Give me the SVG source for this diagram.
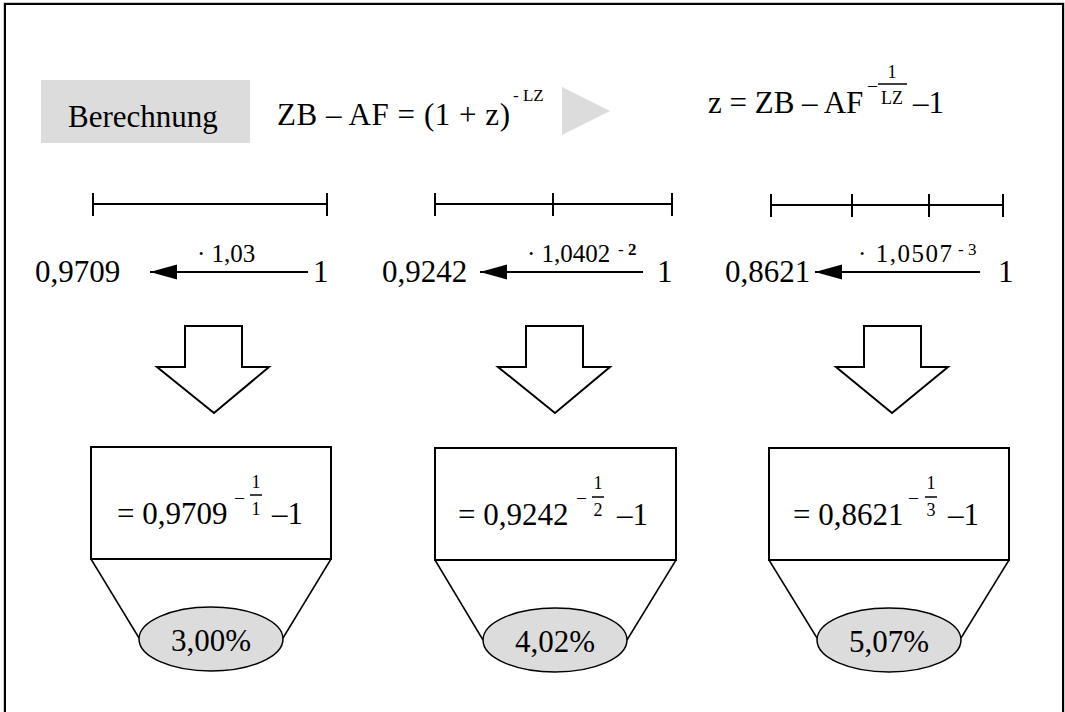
<svg xmlns="http://www.w3.org/2000/svg" width="1065" height="712" viewBox="0 0 1065 712">
<defs>
<style>
text{font-family:"Liberation Serif","Times New Roman",serif;fill:#000}
.m{font-size:31px}
.l{font-size:25px}
.s{font-size:17px}
.e{font-size:18px}
.bar{stroke:#000;stroke-width:2;fill:none}
.ln{stroke:#000;stroke-width:1.5;fill:none}
.arr{stroke:#000;stroke-width:2;fill:none;marker-end:url(#ah)}
.blk{fill:#fff;stroke:#000;stroke-width:2;stroke-linejoin:miter}
.box{fill:#fff;stroke:#000;stroke-width:2}
.ell{fill:#dcdcdc;stroke:#000;stroke-width:1.5}
.c{text-anchor:middle}
</style>
<marker id="ah" markerWidth="28" markerHeight="16" refX="27" refY="7.5" orient="auto" markerUnits="userSpaceOnUse">
<path d="M0,0 L27,7.5 L0,15 Z" fill="#000"/>
</marker>
</defs>
<rect x="4" y="3" width="1060" height="722" fill="none" stroke="#999" stroke-width="1"/>
<rect x="5" y="4" width="1058" height="720" fill="#fff" stroke="#000" stroke-width="2"/>

<g id="header">
<rect x="41" y="80" width="209" height="63" fill="#dcdcdc"/>
<text class="m" x="68" y="127">Berechnung</text>
<text class="m" x="277" y="125" textLength="233" lengthAdjust="spacing">ZB – AF = (1 + z)</text>
<text class="s" x="513" y="101">- LZ</text>
<polygon points="562,87 610,111 562,135" fill="#dcdcdc"/>
<text class="m" x="708" y="113">z = ZB – AF</text>
<text class="e" x="868" y="91">–</text>
<text class="e c" x="892" y="78">1</text>
<line class="ln" x1="878" y1="84" x2="907" y2="84" stroke-width="1"/>
<text class="e c" x="892" y="104">LZ</text>
<text class="m" x="913" y="113">–1</text>
</g>

<g id="bar1">
<line class="bar" x1="93" y1="204" x2="327" y2="204"/>
<line class="bar" x1="93" y1="193" x2="93" y2="216"/>
<line class="bar" x1="327" y1="193" x2="327" y2="216"/>
</g>
<g id="bar2">
<line class="bar" x1="435" y1="204" x2="672" y2="204"/>
<line class="bar" x1="435" y1="193" x2="435" y2="216"/>
<line class="bar" x1="553" y1="193" x2="553" y2="216"/>
<line class="bar" x1="672" y1="193" x2="672" y2="216"/>
</g>
<g id="bar3">
<line class="bar" x1="771" y1="205" x2="1003" y2="205"/>
<line class="bar" x1="771" y1="194" x2="771" y2="217"/>
<line class="bar" x1="852" y1="194" x2="852" y2="217"/>
<line class="bar" x1="929" y1="194" x2="929" y2="217"/>
<line class="bar" x1="1003" y1="194" x2="1003" y2="217"/>
</g>

<g id="row1">
<text class="m" x="35" y="282">0,9709</text>
<text class="l" x="197" y="262">· 1,03</text>
<text class="m" x="313" y="282">1</text>
</g>
<g id="row2">
<text class="m" x="382" y="282">0,9242</text>
<text class="l" x="527" y="262">· 1,0402</text>
<text class="s" x="618" y="255">- <tspan font-weight="bold">2</tspan></text>
<text class="m" x="657" y="282">1</text>
</g>
<g id="row3">
<text class="m" x="725" y="282">0,8621</text>
<text class="l" x="858" y="262" textLength="94" lengthAdjust="spacing">· 1,0507</text>
<text class="s" x="958" y="255">- 3</text>
<text class="m" x="998" y="282">1</text>
</g>

<g id="blockarrow1">
<polygon class="blk" points="185,326 242,326 242,367 269,367 214,413 157,367 185,367"/>
</g>
<g id="blockarrow2">
<polygon class="blk" points="526,326 583,326 583,367 610,367 555,413 498,367 526,367"/>
</g>
<g id="blockarrow3">
<polygon class="blk" points="864,326 921,326 921,367 948,367 892,413 836,367 864,367"/>
</g>

<g id="connectors">
<line class="arr" x1="308" y1="272" x2="150" y2="272"/>
<line class="arr" x1="643" y1="272" x2="480" y2="272"/>
<line class="arr" x1="980" y1="272" x2="815" y2="272"/>
<line class="ln" x1="91" y1="559" x2="139" y2="638"/>
<line class="ln" x1="331" y1="559" x2="283" y2="638"/>
<line class="ln" x1="435" y1="560" x2="483" y2="640"/>
<line class="ln" x1="676" y1="560" x2="627" y2="640"/>
<line class="ln" x1="769" y1="560" x2="817" y2="638"/>
<line class="ln" x1="1009" y1="560" x2="961" y2="638"/>
</g>

<g id="box1">
<rect class="box" x="91" y="447" width="240" height="112"/>
<text class="m" x="117" y="524">= 0,9709</text>
<text class="e" x="235" y="503">–</text>
<text class="e c" x="256" y="488">1</text>
<line class="ln" x1="250" y1="495" x2="262" y2="495" stroke-width="1"/>
<text class="e c" x="256" y="515">1</text>
<text class="m" x="272" y="524">–1</text>
</g>
<g id="box2">
<rect class="box" x="435" y="448" width="241" height="112"/>
<text class="m" x="458" y="525">= 0,9242</text>
<text class="e" x="577" y="503">–</text>
<text class="e c" x="598" y="489">1</text>
<line class="ln" x1="592" y1="497" x2="604" y2="497" stroke-width="1"/>
<text class="e c" x="598" y="516">2</text>
<text class="m" x="617" y="525">–1</text>
</g>
<g id="box3">
<rect class="box" x="769" y="448" width="240" height="112"/>
<text class="m" x="793" y="525">= 0,8621</text>
<text class="e" x="909" y="503">–</text>
<text class="e c" x="931" y="489">1</text>
<line class="ln" x1="925" y1="497" x2="937" y2="497" stroke-width="1"/>
<text class="e c" x="931" y="516">3</text>
<text class="m" x="948" y="525">–1</text>
</g>

<g id="result1">
<ellipse class="ell" cx="211" cy="639" rx="72" ry="32"/>
<text class="m c" x="211" y="651">3,00%</text>
</g>
<g id="result2">
<ellipse class="ell" cx="555" cy="640" rx="72" ry="32"/>
<text class="m c" x="555" y="652">4,02%</text>
</g>
<g id="result3">
<ellipse class="ell" cx="889" cy="640" rx="72" ry="32"/>
<text class="m c" x="889" y="652">5,07%</text>
</g>
</svg>
